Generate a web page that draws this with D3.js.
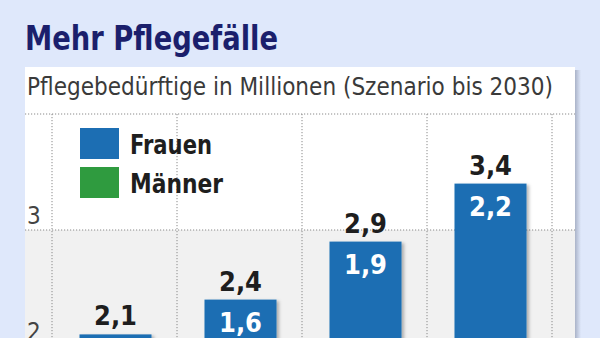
<!DOCTYPE html>
<html><head><meta charset="utf-8">
<script src="https://cdn.jsdelivr.net/npm/d3@7"></script>
<style>
html,body{margin:0;padding:0;background:#dfe8fb;overflow:hidden}
svg{display:block}
text{font-family:"Liberation Sans Narrow","DejaVu Sans Condensed","Roboto Condensed","Noto Sans",sans-serif}
</style></head>
<body>
<script>
const categories = ["2005", "2010", "2020", "2030"];
const frauen = [1.4, 1.6, 1.9, 2.2];
const maenner = [0.7, 0.8, 1.0, 1.2];
const totals = [2.1, 2.4, 2.9, 3.4];
const yTicks = [0, 1, 2, 3, 4];
const seriesNames = ["Frauen", "Männer"];
const seriesColors = ["#1c6eb3", "#2f9b3f"];

const W = 600, H = 338;
const svg = d3.select("body").append("svg").attr("width", W).attr("height", H);

const defs = svg.append("defs");
const f = defs.append("filter").attr("id", "sh").attr("x", "-20%").attr("y", "-20%").attr("width", "150%").attr("height", "150%");
f.append("feDropShadow").attr("dx", 2.5).attr("dy", 1.5).attr("stdDeviation", 1.5).attr("flood-color", "#000").attr("flood-opacity", 0.28);
const g2 = defs.append("linearGradient").attr("id", "psh").attr("x1", 0).attr("x2", 1);
g2.append("stop").attr("offset", 0).attr("stop-color", "#aab3c8");
g2.append("stop").attr("offset", 1).attr("stop-color", "#dfe8fb");

// title
svg.append("text").attr("x", 25).attr("y", 50).attr("font-size", 33).attr("font-weight", "bold")
  .attr("fill", "#1b1f6c").attr("textLength", 253).attr("lengthAdjust", "spacingAndGlyphs").text("Mehr Pflegefälle");

// panel
const pL = 25, pR = 575, pT = 67;
svg.append("rect").attr("x", pR).attr("y", pT + 3).attr("width", 6).attr("height", H).attr("fill", "url(#psh)");
svg.append("rect").attr("x", pL).attr("y", pT).attr("width", pR - pL).attr("height", H).attr("fill", "#fff");

svg.append("text").attr("x", 27).attr("y", 95).attr("font-size", 24).attr("fill", "#3a3a3a")
  .attr("textLength", 526).attr("lengthAdjust", "spacingAndGlyphs")
  .text("Pflegebedürftige in Millionen (Szenario bis 2030)");

const y = d3.scaleLinear().domain([0, 4]).range([578, 114]);
const x = d3.scaleBand().domain(categories).range([53, 553]).paddingInner(0.424).paddingOuter(0.212);

// alternating bands
const bands = d3.range(0, 4).filter(i => i % 2 === 0);
svg.append("g").selectAll("rect").data(bands).join("rect")
  .attr("x", pL).attr("width", pR - pL)
  .attr("y", d => y(d + 1)).attr("height", d => y(d) - y(d + 1)).attr("fill", "#f1f1f1");

// horizontal dotted grid
svg.append("g").selectAll("line").data(yTicks.filter(d => d > 0)).join("line")
  .attr("x1", pL).attr("x2", pR).attr("y1", d => y(d)).attr("y2", d => y(d))
  .attr("stroke", "#8a8a8a").attr("stroke-width", 1).attr("stroke-dasharray", "1.2,1.8");

// vertical dotted grid
const step = x.step();
const vx = d3.range(0, categories.length + 1).map(i => x.range()[0] - 1 + i * step);
svg.append("g").selectAll("line").data(vx).join("line")
  .attr("x1", d => d).attr("x2", d => d).attr("y1", y(4)).attr("y2", H)
  .attr("stroke", "#8a8a8a").attr("stroke-width", 1).attr("stroke-dasharray", "1.2,1.8");

// y tick labels (only those within the visible part)
svg.append("g").selectAll("text").data(yTicks.filter(d => d > 0 && d < 4 && y(d) - 6 < H + 20)).join("text")
  .attr("x", 27).attr("y", d => y(d) - 6).attr("font-size", 24).attr("fill", "#444").text(d => d);

// stacked bars
const data = categories.map((c, i) => ({cat: c, Männer: maenner[i], Frauen: frauen[i], total: totals[i]}));
const stack = d3.stack().keys(["Männer", "Frauen"]);
const series = stack(data);
const colorOf = {Frauen: seriesColors[0], Männer: seriesColors[1]};
const bg = svg.append("g").attr("filter", "url(#sh)");
series.forEach(s => {
  bg.selectAll(null).data(s).join("rect")
    .attr("x", d => x(d.data.cat)).attr("width", x.bandwidth())
    .attr("y", d => y(s.key === "Frauen" ? d.data.total : d[1]))
    .attr("height", d => y(d[0]) - y(s.key === "Frauen" ? d.data.total : d[1]))
    .attr("fill", colorOf[s.key]);
});

// total labels
svg.append("g").selectAll("text").data(data).join("text")
  .attr("x", d => x(d.cat) + x.bandwidth() / 2).attr("y", d => y(d.total) - 9)
  .attr("text-anchor", "middle").attr("font-size", 27).attr("font-weight", "bold").attr("fill", "#1e1e1e")
  .text(d => d3.format(".1f")(d.total).replace(".", ","));

// inner Frauen labels
svg.append("g").selectAll("text").data(data.filter(d => y(d.total) + 32 < H)).join("text")
  .attr("x", d => x(d.cat) + x.bandwidth() / 2).attr("y", d => y(d.total) + 32)
  .attr("text-anchor", "middle").attr("font-size", 27).attr("font-weight", "bold").attr("fill", "#fff")
  .text(d => d3.format(".1f")(d.Frauen).replace(".", ","));

// legend
const lg = svg.append("g");
const legW = [82, 93];
seriesNames.forEach((n, i) => {
  lg.append("rect").attr("x", 80).attr("y", 128 + i * 39).attr("width", 39).attr("height", 31).attr("fill", seriesColors[i]);
  lg.append("text").attr("x", 130).attr("y", 154 + i * 39).attr("font-size", 27).attr("fill", "#1e1e1e")
    .attr("font-weight", "bold").attr("textLength", legW[i]).attr("lengthAdjust", "spacingAndGlyphs").text(n);
});
</script>
</body></html>
